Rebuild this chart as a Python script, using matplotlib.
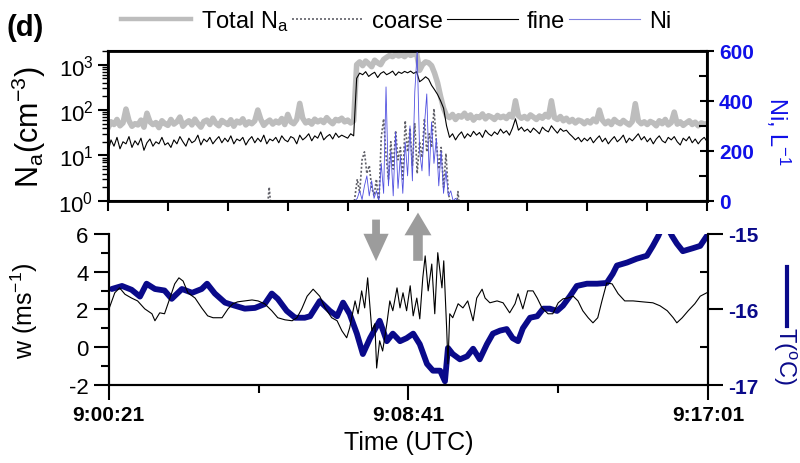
import numpy as np
import matplotlib
matplotlib.use('Agg')
import matplotlib.pyplot as plt
import matplotlib.ticker as mticker
from matplotlib.lines import Line2D

plt.rcParams.update({
    'font.family': ['Liberation Sans', 'DejaVu Sans'],
    'mathtext.fontset': 'custom',
    'mathtext.rm': 'Liberation Sans',
    'mathtext.it': 'Liberation Sans',
    'mathtext.bf': 'Liberation Sans:bold',
    'mathtext.default': 'regular',
    'axes.unicode_minus': False,
    'axes.linewidth': 1.5,
})

# --- data (time in s after 9:00:21) ---
t_na = np.arange(0, 1001, 5)
total_na = [
    40, 55, 48, 62, 45, 52, 105, 58, 44, 50, 47, 60, 42, 85, 55, 48, 53, 41, 58, 50,
    46, 62, 49, 55, 70, 44, 52, 58, 47, 63, 50, 42, 56, 60, 48, 66, 51, 45, 59, 53,
    48, 61, 44, 57, 52, 64, 47, 55, 50, 58, 100, 62, 46, 54, 60, 49, 57, 52, 65, 48,
    80, 55, 50, 62, 140, 66, 52, 58, 49, 63, 55, 60, 53, 68, 57, 50, 62, 58, 66, 55,
    60, 52, 58, 1000, 1150, 950, 1200, 1050, 900, 1250, 1100, 1000, 1300, 1450, 1600, 1500, 1700, 1550, 1650, 1500,
    1750, 1600, 1700, 1800, 750, 1000, 1150, 1100, 950, 650, 400, 200, 110, 75, 68, 80, 62, 75, 70, 85,
    66, 78, 60, 72, 68, 82, 64, 75, 70, 62, 76, 68, 73, 65, 80, 70, 160, 75, 66, 72,
    64, 78, 70, 62, 74, 66, 80, 70, 160, 68, 62, 72, 58, 66, 55, 62, 52, 60, 57, 50,
    58, 52, 63, 55, 100, 60, 50, 57, 48, 62, 54, 50, 59, 52, 47, 56, 138, 58, 50, 55,
    48, 56, 52, 45, 58, 50, 62, 47, 53, 90, 49, 55, 46, 52, 58, 48, 54, 45, 52, 49,
    50,
]
fine_na = [
    12, 22, 16, 25, 14, 20, 18, 26, 15, 21, 17, 24, 13, 19, 23, 16, 20, 18, 25, 17,
    19, 15, 22, 18, 26, 20, 16, 24, 19, 21, 28, 17, 23, 20, 25, 18, 22, 26, 19, 24,
    20, 27, 18, 23, 21, 25, 17, 22, 26, 19, 24, 20, 28, 18, 23, 21, 25, 19, 27, 22,
    20, 26, 24, 18, 28, 22, 25, 30, 21, 27, 24, 33, 22, 26, 29, 23, 31, 25, 28, 26,
    24, 30, 27, 500, 650, 600, 700, 550, 620, 680, 520, 640, 700, 600, 650, 720, 580, 690, 640, 710,
    660, 720, 640, 700, 420, 470, 540, 480, 350, 280, 220, 160, 110, 45, 25, 30, 22, 28, 33, 24,
    30, 26, 34, 28, 32, 25, 36, 30, 27, 33, 29, 38, 31, 35, 28, 40, 64, 36, 42, 34,
    38, 32, 40, 35, 30, 42, 36, 33, 45, 37, 31, 39, 34, 36, 30, 26, 22, 25, 20, 24,
    21, 25, 19, 23, 27, 20, 24, 18, 22, 26, 20, 23, 28, 19, 24, 21, 25, 30, 22, 26,
    20, 24, 18, 23, 27, 21, 19, 25, 22, 26, 20, 17, 24, 21, 26, 19, 23, 18, 22, 25,
    20,
]

t_cloud = np.arange(404, 596, 4)
coarse_na = [
    0.3, 0.5, 1.2, 3, 1.5, 8, 12, 4, 6, 2,
    1.3, 3, 0.8, 25, 64, 10, 3, 20, 5, 35,
    8, 15, 3, 58, 12, 40, 6, 50, 4, 20,
    9, 64, 12, 30, 15, 107, 20, 5, 15, 2,
    11, 1.5, 0.8, 0.5, 0.4, 1.6, 0.5, 0.3,
]
ni = [
    0, 0, 0, 10, 40, 5, 60, 100, 20, 80,
    10, 40, 0, 150, 30, 456, 60, 200, 20, 276,
    50, 180, 30, 236, 100, 300, 80, 436, 600, 200,
    120, 300, 428, 100, 316, 150, 250, 60, 200, 30,
    120, 20, 40, 0, 10, 0, 0, 0,
]
t_coarse_blip = [265, 269, 273]
coarse_blip = [0.5, 2.0, 0.5]

t_w = [0, 10, 18, 27, 38, 48, 60, 72, 77, 85, 93, 102, 110, 117, 124, 132, 144, 155, 165, 174,
       189, 199, 207, 215, 227, 239, 249, 260, 272, 282, 294, 306, 314, 322, 331, 341, 352, 361, 372, 381,
       389, 397, 402, 411, 416, 422, 427, 432, 439, 444, 447, 452, 457, 464, 469, 474, 481, 486, 491, 497,
       503, 508, 514, 519, 524, 528, 533, 539, 544, 549, 556, 559, 564, 566, 569, 574, 583, 591, 599, 608,
       614, 623, 628, 636, 648, 658, 669, 678, 683, 691, 699, 708, 715, 723, 733, 741, 750, 758, 766, 775,
       783, 791, 800, 808, 816, 823, 831, 840, 850, 861, 875, 891, 908, 920, 932, 942, 948, 957, 967, 978,
       987, 998]
w = [2.0, 2.88, 3.14, 2.8, 2.6, 2.45, 2.03, 1.77, 1.4, 1.82, 1.77, 2.6, 3.35, 3.67, 3.5, 2.88, 2.6, 2.08, 1.66, 1.56,
     1.56, 2.03, 2.3, 2.4, 2.45, 2.5, 2.45, 2.3, 1.93, 1.56, 1.45, 1.4, 1.56, 2.03, 2.7, 3.07, 2.7, 2.08, 1.56, 1.4,
     0.87, 0.5, 1.03, 2.45, 1.77, 2.98, 2.08, 3.67, 0.87, 1.24, -1.1, 0.34, -0.2, 1.24, 2.45, 1.93, 3.14, 2.08, 2.88, 1.93,
     3.25, 1.66, 2.6, 1.5, 3.67, 4.83, 2.98, 4.4, 1.77, 5.0, 3.14, 4.57, 0.87, -0.88, 1.77, 1.56, 2.3, 2.08, 2.45, 1.4,
     2.6, 3.07, 2.6, 2.35, 2.45, 2.35, 1.82, 2.3, 2.83, 2.03, 2.98, 2.98, 2.6, 2.08, 1.77, 1.77, 2.35, 2.56, 2.6, 2.7,
     2.45, 1.93, 1.56, 1.29, 1.56, 2.45, 3.4, 3.35, 2.83, 2.45, 2.45, 2.4, 2.35, 2.19, 1.93, 1.56, 1.29, 1.56, 1.93, 2.3,
     2.7, 2.88]

t_temp = [5, 22, 38, 52, 63, 77, 93, 105, 122, 139, 155, 164, 177, 194, 210, 227, 244, 260, 272, 282,
          297, 311, 327, 336, 352, 369, 381, 391, 402, 414, 424, 436, 452, 464, 474, 486, 497, 508, 519, 531,
          541, 553, 561, 566, 574, 586, 598, 608, 619, 631, 641, 653, 664, 674, 683, 691, 703, 715, 725, 736,
          748, 758, 770, 781, 798, 815, 831, 841, 848, 865, 881, 898, 908, 917, 923, 933, 940, 948, 958, 975,
          987, 998]
temp = [-15.73, -15.69, -15.74, -15.83, -15.66, -15.73, -15.75, -15.86, -15.73, -15.78,
        -15.73, -15.66, -15.79, -15.91, -15.95, -15.99, -15.98, -15.93, -15.79, -15.86,
        -16.02, -16.11, -16.11, -16.09, -15.89, -16.02, -16.09, -15.91, -16.06, -16.32,
        -16.59, -16.38, -16.15, -16.42, -16.32, -16.42, -16.38, -16.32, -16.46, -16.72,
        -16.81, -16.81, -16.95, -16.51, -16.59, -16.66, -16.62, -16.52, -16.66, -16.46,
        -16.32, -16.28, -16.26, -16.38, -16.42, -16.25, -16.11, -16.09, -15.99, -15.99,
        -16.02, -15.95, -15.82, -15.69, -15.66, -15.66, -15.65, -15.53, -15.42, -15.38,
        -15.33, -15.29, -15.16, -15.03, -14.92, -14.92, -15.03, -15.13, -15.23, -15.19,
        -15.16, -15.03]

time_ticks = [0, 500, 1000]
time_labels = ['9:00:21', '9:08:41', '9:17:01']

BLUE = '#1010e8'
NAVY = '#0a0a8a'
GREY = '#bdbdbd'

fig = plt.figure(figsize=(8, 4.64), dpi=100)
ax1 = fig.add_axes([0.135, 0.565, 0.749, 0.323])
ax1r = ax1.twinx()
ax2 = fig.add_axes([0.136, 0.168, 0.749, 0.326])
ax2r = ax2.twinx()

# --- top panel: aerosol and ice ---
ax1.plot(t_na, total_na, color=GREY, lw=4.0, zorder=1)
ax1.plot(t_na, fine_na, color='black', lw=0.8, zorder=2)
ax1.plot(t_cloud, coarse_na, color='#606068', lw=1.2, ls=(0, (1.2, 1.2)), zorder=3)
ax1.plot(t_coarse_blip, coarse_blip, color='#606068', lw=1.2, ls=(0, (1.2, 1.2)), zorder=3)
ax1r.plot(t_cloud, ni, color='#5050e0', lw=0.6)

ax1.set_yscale('log')
ax1.set_ylim(1, 2000)
ax1.set_xlim(0, 1000)
ax1.set_xticks(np.arange(0, 1001, 100))
ax1.set_xticklabels([])
ax1.yaxis.set_major_locator(mticker.LogLocator(base=10, numticks=10))
ax1.yaxis.set_minor_locator(mticker.LogLocator(base=10, subs=np.arange(2, 10), numticks=10))
ax1.yaxis.set_minor_formatter(mticker.NullFormatter())
ax1.tick_params(axis='both', which='major', direction='out', length=7, width=1.5, labelsize=16)
ax1.tick_params(axis='y', which='minor', direction='out', length=4.5, width=1.0)
ax1.set_ylabel('N$_a$(cm$^{-3}$)', fontsize=22)
ax1.yaxis.set_label_coords(-0.1, 0.5)

ax1r.set_ylim(0, 600)
ax1r.set_yticks([0, 200, 400, 600])
ax1r.set_yticks([100, 300, 500], minor=True)
ax1r.tick_params(axis='y', which='major', direction='inout', length=10, width=1.5,
                 labelsize=15, labelcolor=BLUE)
ax1r.tick_params(axis='y', which='minor', direction='in', length=6, width=1.5)
for lab in ax1r.get_yticklabels():
    lab.set_fontweight('bold')
ax1r.set_ylabel('Ni, L$^{-1}$', fontsize=17, color=BLUE, rotation=270, va='bottom')
ax1r.yaxis.set_label_coords(1.095, 0.47)
for sp in ax1.spines.values():
    sp.set_linewidth(2)

# --- bottom panel: vertical velocity and temperature ---
ax2r.plot(t_temp, temp, color=NAVY, lw=4.2, solid_capstyle='round')
ax2.plot(t_w, w, color='black', lw=0.8)
ax2.set_zorder(ax2r.get_zorder() + 1)
ax2.patch.set_visible(False)

ax2.set_xlim(0, 1000)
ax2.set_ylim(-2, 6)
ax2.set_yticks([-2, 0, 2, 4, 6])
ax2.set_yticks([-1, 1, 3, 5], minor=True)
ax2.set_xticks(time_ticks)
ax2.set_xticklabels(time_labels, fontweight='bold')
ax2.set_xticks([250, 750], minor=True)
ax2.tick_params(axis='both', which='major', direction='out', length=11, width=1.5, labelsize=15)
ax2.tick_params(axis='both', which='minor', direction='out', length=6, width=1.5)
ax2.tick_params(axis='y', labelsize=16)
ax2.set_ylabel('w (ms$^{-1}$)', fontsize=18)
ax2.yaxis.set_label_coords(-0.115, 0.5)
ax2.set_xlabel('Time (UTC)', fontsize=18, labelpad=4)

ax2r.set_ylim(-17, -15)
ax2r.set_yticks([-17, -16, -15])
ax2r.set_yticks([-16.5, -15.5], minor=True)
ax2r.tick_params(axis='y', which='major', direction='out', length=11, width=1.5,
                 labelsize=15, labelcolor=NAVY)
ax2r.tick_params(axis='y', which='minor', direction='in', length=6, width=1.5)
for lab in ax2r.get_yticklabels():
    lab.set_fontweight('bold')
ax2r.set_ylabel('T($^{o}$C)', fontsize=17, color=NAVY, rotation=270, va='bottom')
ax2r.yaxis.set_label_coords(1.105, 0.2)
ax2.add_line(Line2D([1.132, 1.132], [0.39, 0.78], transform=ax2.transAxes,
                    color=NAVY, lw=3, clip_on=False))
for a in (ax2, ax2r):
    a.spines['top'].set_visible(False)

# flight direction arrows
ax2.arrow(446, 6.75, 0, -2.2, width=13, head_width=42, head_length=1.45,
          length_includes_head=True, color='#9c9c9c', ec='none', clip_on=False, zorder=5)
ax2.arrow(516, 4.57, 0, 2.55, width=16, head_width=45, head_length=1.2,
          length_includes_head=True, color='#9c9c9c', ec='none', clip_on=False, zorder=5)

# --- legend and panel letter ---
handles = [
    Line2D([], [], color=GREY, lw=3.2),
    Line2D([], [], color='#606068', lw=1.2, ls=(0, (1.2, 1.2))),
    Line2D([], [], color='black', lw=0.8),
    Line2D([], [], color='#8080e0', lw=0.8),
]
fig.legend(handles, ['Total N$_a$', 'coarse', 'fine', 'Ni'], loc='center',
           bbox_to_anchor=(0.495, 0.953), ncol=4, frameon=False, fontsize=17,
           handlelength=3.0, handletextpad=0.4, columnspacing=0.15, borderpad=0)
fig.text(0.008, 0.94, '(d)', fontsize=21, fontweight='bold', va='center', ha='left')

fig.savefig('out.png', dpi=100)
